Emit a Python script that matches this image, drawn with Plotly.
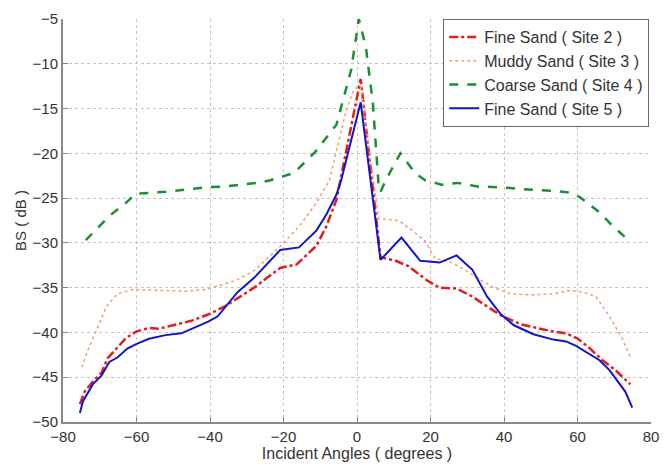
import plotly.graph_objects as go

# Fine Sand (Site 2)
site2_x = [-75.4, -74.1, -71.9, -69.5, -67.9, -65.5, -62.8, -60.1, -56.6, -54, -49.4, -45.1, -40.5, -36,
           -28, -20.9, -16.4, -11, -8.3, -5.6, 1, 6.4, 10.5, 14, 19.1, 22.5, 27.1, 31.4, 35.4, 39.2,
           44.6, 49.9, 53.4, 56.9, 60.1, 63.4, 66.8, 70.3, 74.4]
site2_y = [-48.0, -46.6, -45.5, -44.5, -42.9, -41.8, -40.6, -39.9, -39.5, -39.6, -39.1, -38.7, -38.0, -37.1,
           -35.0, -32.8, -32.4, -30.3, -28.1, -25.2, -11.7, -31.6, -32.0, -32.6, -34.2, -35.0, -35.1, -36.0,
           -37.1, -38.1, -39.1, -39.6, -39.9, -40.1, -40.7, -41.8, -43.1, -44.2, -45.8]

# Muddy Sand (Site 3)
site3_x = [-74.9, -72.8, -70.1, -68.2, -65.2, -61.2, -54, -46.7, -41.3, -36, -32.5, -28, -20.9, -15.6,
           -11, -7.5, -3, -0.8, 1, 5.9, 11.3, 15, 18.5, 21.2, 25.8, 29.3, 33.8, 37.3, 41.9, 47, 53.4,
           58, 61.5, 65, 68.7, 72.2, 74.4]
site3_y = [-43.9, -41.5, -39.0, -37.1, -35.7, -35.2, -35.3, -35.4, -35.2, -34.6, -34.1, -33.1, -30.4, -28.1,
           -25.5, -23.0, -15.3, -12.8, -12.5, -27.3, -27.5, -28.6, -29.8, -31.7, -32.2, -33.0, -34.2, -35.0,
           -35.7, -35.8, -35.7, -35.3, -35.5, -36.0, -38.2, -40.7, -42.8]

# Coarse Sand (Site 4)
site4_x = [-73.8, -67.4, -62.8, -60.2, -52, -41.4, -36, -27, -23.6, -17.2, -11.5, -5.6, -1.6, 0.5, 2.4,
           4.3, 5.9, 6.4, 7.8, 11.8, 15.8, 18.5, 23, 27.4, 32.8, 39.5, 45.4, 54.2, 58, 60.7, 66, 69.5, 72.8]
site4_y = [-29.7, -27.0, -25.5, -24.5, -24.3, -23.8, -23.7, -23.3, -23.0, -22.2, -19.9, -16.8, -10.7, -5.0,
           -8.1, -14.3, -23.7, -24.3, -23.0, -20.0, -22.2, -23.0, -23.5, -23.3, -23.7, -23.8, -24.0, -24.2,
           -24.4, -24.9, -26.6, -28.1, -29.3]

# Fine Sand (Site 5)
site5_x = [-75.4, -74.6, -71.9, -69.5, -67.4, -65.2, -62.5, -60.1, -56.6, -52.1, -47.8, -45.1, -40.5, -37.9,
           -35.2, -32.5, -28, -20.9, -15.8, -11, -8.3, -5.6, -4.3, 1, 6.4, 12.1, 17.2, 22.5, 27.1, 31.4,
           35.4, 39.2, 42.7, 48, 53.4, 56.9, 59.6, 63.4, 66, 68.7, 70.3, 73, 74.9]
site5_y = [-49.0, -47.7, -45.8, -44.8, -43.3, -42.8, -41.8, -41.3, -40.7, -40.3, -40.1, -39.6, -38.8, -38.2,
           -36.9, -35.5, -33.9, -30.8, -30.5, -28.6, -26.8, -24.6, -23.0, -14.3, -31.9, -29.4, -32.0, -32.2,
           -31.4, -33.0, -36.0, -38.0, -39.2, -40.2, -40.8, -41.0, -41.5, -42.4, -43.1, -44.2, -45.1, -46.6,
           -48.4]

names = ["Fine Sand ( Site 2 )", "Muddy Sand ( Site 3 )", "Coarse Sand ( Site 4 )", "Fine Sand ( Site 5 )"]
x_ticks = [-80, -60, -40, -20, 0, 20, 40, 60, 80]
y_ticks = [-50, -45, -40, -35, -30, -25, -20, -15, -10, -5]

FONT = "Liberation Sans, Arial, sans-serif"

fig = go.Figure()
fig.add_trace(go.Scatter(x=site2_x, y=site2_y, mode="lines", name=names[0],
                         line=dict(color="rgb(225,30,30)", width=2.5, dash="dashdot")))
fig.add_trace(go.Scatter(x=site3_x, y=site3_y, mode="lines", name=names[1],
                         line=dict(color="rgb(240,160,120)", width=1.5, dash="dot")))
fig.add_trace(go.Scatter(x=site4_x, y=site4_y, mode="lines", name=names[2],
                         line=dict(color="rgb(30,140,50)", width=2.5, dash="dash")))
fig.add_trace(go.Scatter(x=site5_x, y=site5_y, mode="lines", name=names[3],
                         line=dict(color="rgb(20,20,200)", width=2)))

fig.update_layout(
    width=669, height=467,
    margin=dict(l=63, r=10, t=15, b=39),
    paper_bgcolor="white", plot_bgcolor="white",
    font=dict(family=FONT, size=15, color="#333"),
    showlegend=True,
    legend=dict(x=0.997, y=1.0, xanchor="right", yanchor="top",
                bgcolor="white", bordercolor="#666", borderwidth=1,
                font=dict(size=16, color="#333"), tracegroupgap=0, itemwidth=30),
)
fig.update_xaxes(range=[-80, 80], tickvals=x_ticks, showgrid=True,
                 gridcolor="#c4c4c4", griddash="dot", gridwidth=1,
                 showline=True, linecolor="#888", linewidth=2, mirror=False,
                 ticks="inside", ticklen=5, tickcolor="#888", zeroline=False,
                 tickfont=dict(size=15),
                 title=dict(text="Incident Angles ( degrees )", standoff=1, font=dict(size=16)))
fig.update_yaxes(range=[-50, -5], tickvals=y_ticks, showgrid=True,
                 gridcolor="#c4c4c4", griddash="dot", gridwidth=1,
                 showline=True, linecolor="#888", linewidth=2, mirror=False,
                 ticks="inside", ticklen=5, tickcolor="#888", zeroline=False,
                 tickfont=dict(size=15),
                 title=dict(text="BS ( dB )", standoff=2, font=dict(size=15)))

fig.write_html("out.html")
